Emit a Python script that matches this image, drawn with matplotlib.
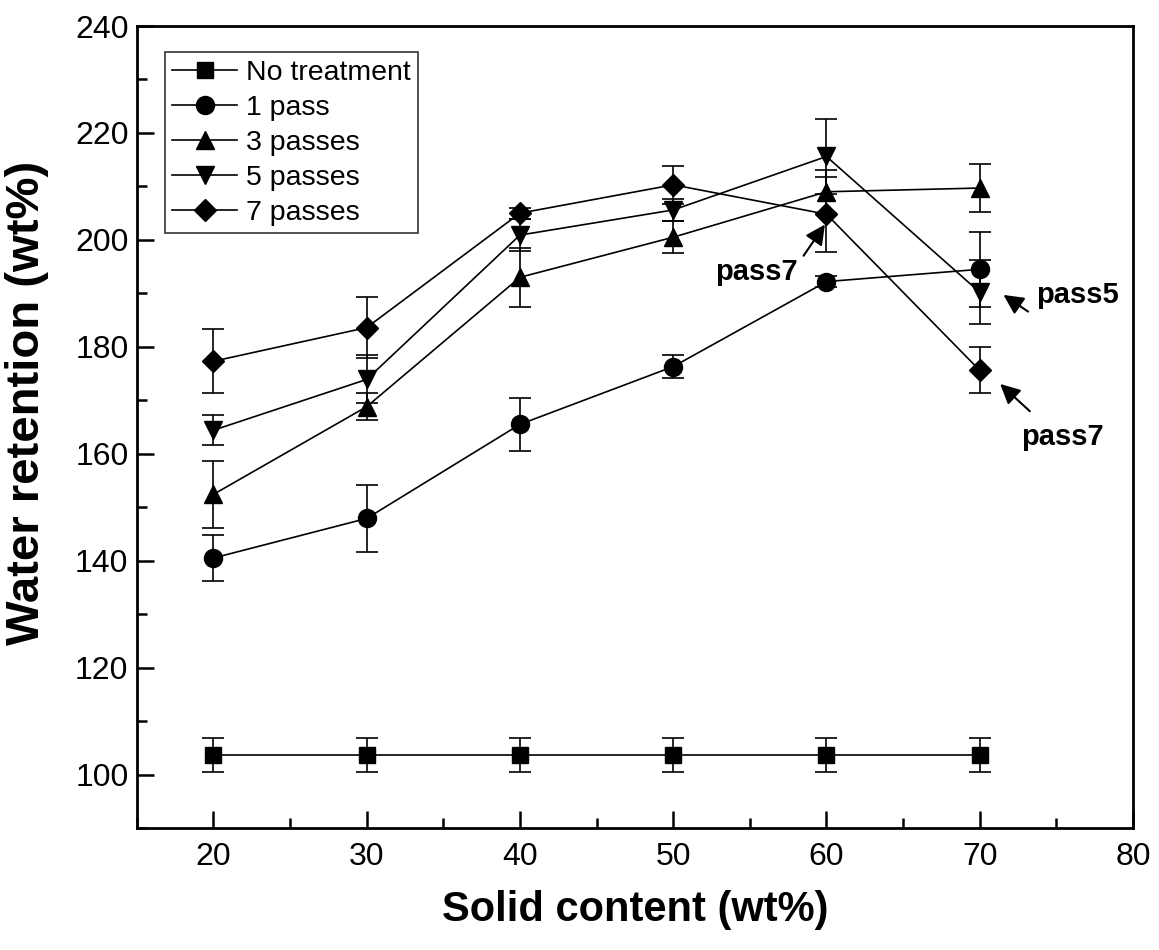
import matplotlib.pyplot as plt
from matplotlib.ticker import MultipleLocator

plt.rcParams['font.family'] = ['Liberation Sans', 'DejaVu Sans']

solid = [20, 30, 40, 50, 60, 70]

no_treat = [103.7, 103.7, 103.7, 103.7, 103.7, 103.7]
no_treat_err = [3.2, 3.2, 3.2, 3.2, 3.2, 3.2]
pass1 = [140.5, 147.9, 165.5, 176.3, 192.2, 194.5]
pass1_err = [4.3, 6.3, 5.0, 2.2, 1.0, 7.0]
pass3 = [152.4, 168.8, 193.0, 200.5, 209.0, 209.7]
pass3_err = [6.3, 2.5, 5.5, 3.0, 4.0, 4.5]
pass5 = [164.4, 173.9, 200.9, 205.6, 215.6, 190.2]
pass5_err = [2.8, 4.5, 3.0, 2.0, 7.0, 6.0]
pass7 = [177.3, 183.6, 205.0, 210.3, 204.8, 175.6]
pass7_err = [6.0, 5.7, 1.0, 3.5, 7.0, 4.3]

series = [
    ('No treatment', no_treat, no_treat_err, 's'),
    ('1 pass', pass1, pass1_err, 'o'),
    ('3 passes', pass3, pass3_err, '^'),
    ('5 passes', pass5, pass5_err, 'v'),
    ('7 passes', pass7, pass7_err, 'D'),
]

fig = plt.figure(figsize=(11.59, 9.5), dpi=100)
ax = fig.add_axes([0.118, 0.1284, 0.8596, 0.8442])

handles, labels = [], []
for label, y, err, m in series:
    ms = 11 if m in ('s', 'D') else 13
    c = ax.errorbar(solid, y, yerr=err, color='black', marker=m, ms=ms,
                    lw=1.2, elinewidth=1.2, capsize=8, capthick=1.2)
    handles.append(c[0])
    labels.append(label)

# annotations
arrow = dict(arrowstyle='-|>', color='black', lw=1.5, mutation_scale=30)
ax.annotate('', xy=(60.0, 203.3), xytext=(58.4, 196.6), arrowprops=arrow)
ax.text(55.4, 194.0, 'pass7', fontsize=21, fontweight='bold', ha='center', va='center')
ax.annotate('', xy=(71.4, 190.0), xytext=(73.3, 186.3), arrowprops=arrow)
ax.text(76.4, 189.7, 'pass5', fontsize=21, fontweight='bold', ha='center', va='center')
ax.annotate('', xy=(71.2, 173.4), xytext=(73.4, 167.6), arrowprops=arrow)
ax.text(75.4, 163.1, 'pass7', fontsize=21, fontweight='bold', ha='center', va='center')

ax.set_xlim(15, 80)
ax.set_ylim(90, 240)
ax.xaxis.set_major_locator(MultipleLocator(10))
ax.xaxis.set_minor_locator(MultipleLocator(5))
ax.yaxis.set_major_locator(MultipleLocator(20))
ax.yaxis.set_minor_locator(MultipleLocator(10))
ax.tick_params(which='both', direction='in', width=1.8, labelsize=23)
ax.tick_params(which='major', length=12)
ax.tick_params(which='minor', length=7)
ax.tick_params(axis='x', pad=10)
ax.tick_params(axis='y', pad=6)
for s in ax.spines.values():
    s.set_linewidth(2)

ax.set_xlabel('Solid content (wt%)', fontsize=30, fontweight='bold', labelpad=13)
ax.set_ylabel('Water retention (wt%)', fontsize=34, fontweight='bold')
ax.yaxis.set_label_coords(-0.088, 0.53)

leg = ax.legend(handles, labels, loc='upper left', bbox_to_anchor=(0.028, 0.967),
                fontsize=20.5, frameon=True, fancybox=False, edgecolor='black',
                borderpad=0.25, labelspacing=0.32, handlelength=2.3,
                handletextpad=0.3, borderaxespad=0)
leg.get_frame().set_linewidth(1.2)

fig.savefig('out.png', dpi=100)
